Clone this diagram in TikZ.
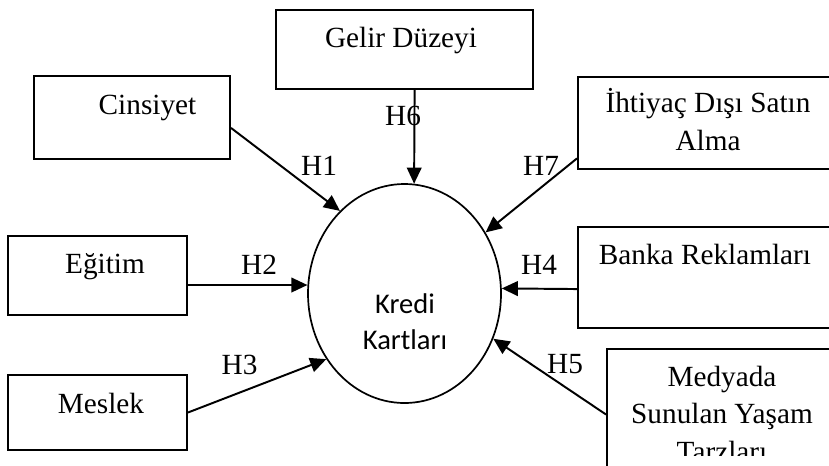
\documentclass[tikz,border=0pt]{standalone}
\usepackage{fontspec}
\setmainfont{Liberation Serif}
\newfontfamily\calibrifont{Carlito}
\usepackage{tikz}
\usetikzlibrary{arrows.meta, positioning, shapes.geometric}
\newcommand{\px}{0.41pt}

\begin{document}
\begin{tikzpicture}[
  x=0.41pt, y=-0.41pt,
  kutu/.style={draw, line width=0.8pt, inner sep=0pt},
  yazi/.style={font=\fontsize{12}{15.2}\selectfont, align=center, inner sep=0pt, anchor=base},
  hipo/.style={font=\fontsize{12}{14}\selectfont, inner sep=0pt, anchor=base},
  ok/.style={-{Triangle[length=6.6pt, width=6pt]}, line width=0.8pt}
]
  \clip (0,0) rectangle (829,465);

  % Boxes
  \node[kutu, minimum width=257*\px, minimum height=79*\px] (gelir) at (404.5,49.5) {};
  \node[kutu, minimum width=196*\px, minimum height=83*\px] (cins) at (132,117.5) {};
  \node[kutu, minimum width=262*\px, minimum height=92*\px] (ihtiyac) at (709,123) {};
  \node[kutu, minimum width=179*\px, minimum height=79*\px] (egitim) at (97.5,275.5) {};
  \node[kutu, minimum width=262*\px, minimum height=101*\px] (banka) at (709,277.5) {};
  \node[kutu, minimum width=179*\px, minimum height=75*\px] (meslek) at (97.5,412.5) {};
  \node[kutu, minimum width=233*\px, minimum height=131*\px] (medya) at (723.5,414.5) {};

  % Box texts (base = last line)
  \node[yazi] (gelirT) at (401,47) {Gelir Düzeyi};
  \node[yazi] (cinsT) at (147.5,114) {Cinsiyet};
  \node[yazi] (ihtiyacT) at (708,150) {İhtiyaç Dışı Satın\\Alma};
  \node[yazi] (egitimT) at (105,273) {Eğitim};
  \node[yazi] (bankaT) at (705,264) {Banka Reklamları};
  \node[yazi] (meslekT) at (101,413) {Meslek};
  \begin{scope}
    \clip (medya.north west) rectangle (829,455);
    \node[yazi] (medyaT) at (722,461) {Medyada\\Sunulan Yaşam\\Tarzları};
  \end{scope}

  % Centre
  \node[draw, ellipse, line width=0.7pt, inner sep=0pt, minimum width=193*\px, minimum height=219*\px] (kredi) at (404.5,293.5) {};
  \node[font=\calibrifont\fontsize{11.7}{14.4}\selectfont, align=center, inner sep=0pt, anchor=base] (krediT) at (405,349) {Kredi\\Kartları};

  % Connections
  \draw[ok] (cins.-6.7) -- (kredi.128);
  \draw[ok] (gelir.-76.5) -- (kredi.85);
  \draw[ok] (ihtiyac.-165) -- (kredi.37.6);
  \draw[ok] (egitim.-6.7) -- (kredi.175.6);
  \draw[ok] (banka.185.45) -- (kredi.3.85);
  \draw[ok] (meslek.east) -- (kredi.220);
  \draw[ok] (medya.west) -- (kredi.-27.5);

  % Hypotheses
  \node[hipo] (h1) at (319,175) {H1};
  \node[hipo] (h2) at (259,274) {H2};
  \node[hipo] (h3) at (239.5,374) {H3};
  \node[hipo] (h4) at (539,274) {H4};
  \node[hipo] (h5) at (565,373) {H5};
  \node[hipo] (h6) at (403,125) {H6};
  \node[hipo] (h7) at (541,175) {H7};
\end{tikzpicture}
\end{document}
